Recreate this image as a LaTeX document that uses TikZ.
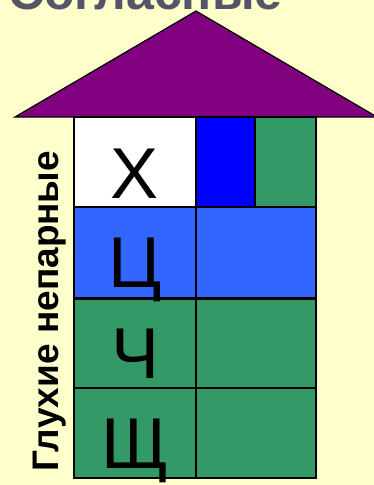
\documentclass[tikz,border=0pt]{standalone}
\usepackage{fontspec}
\setmainfont{Liberation Sans}
\usepackage{tikz}
\usetikzlibrary{positioning}

\definecolor{cream}{HTML}{FFFFCC}
\definecolor{roofpurple}{HTML}{800080}
\definecolor{deepblue}{HTML}{0000FF}
\definecolor{rowblue}{HTML}{3366FF}
\definecolor{cellgreen}{HTML}{339966}
\definecolor{titlegray}{HTML}{55556A}

\begin{document}
\begin{tikzpicture}[x=1pt,y=1pt,node distance=0pt,
  cell/.style={draw,line width=1.6pt,inner sep=0pt,outer sep=0pt,minimum height=90pt},
  letter/.style={font=\fontsize{72}{72}\selectfont,inner sep=0pt,anchor=base}]
  \path[use as bounding box,fill=cream] (0,0) rectangle (374,-485);
  \clip (0,0) rectangle (374,-485);
  \node[anchor=base west,inner sep=0pt,text=titlegray,
        font=\bfseries\fontsize{50}{50}\selectfont] (title) at (8,-9) {Согласные};
  % roof
  \coordinate (eaveL) at (15,-117);
  \coordinate (apex) at (196,-11);
  \coordinate (eaveR) at (377,-117);
  \filldraw[fill=roofpurple,draw=black,line width=1.2pt] (eaveL) -- (apex) -- (eaveR) -- cycle;
  % walls
  \node[cell,fill=white,minimum width=122pt,anchor=north west] (h1) at (74,-117) {};
  \node[cell,fill=deepblue,minimum width=59pt,right=of h1] (h2) {};
  \node[cell,fill=cellgreen,minimum width=61pt,right=of h2] (h3) {};
  \node[cell,fill=rowblue,minimum width=122pt,minimum height=91pt,below=of h1] (c1) {};
  \node[cell,fill=rowblue,minimum width=120pt,minimum height=91pt,right=of c1] (c2) {};
  \node[cell,fill=cellgreen,minimum width=122pt,below=of c1] (ch1) {};
  \node[cell,fill=cellgreen,minimum width=120pt,right=of ch1] (ch2) {};
  \node[cell,fill=cellgreen,minimum width=122pt,below=of ch1] (sh1) {};
  \node[cell,fill=cellgreen,minimum width=120pt,right=of sh1] (sh2) {};
  \draw[line width=3pt] (c1.south west) -- (c2.south east);
  % letters
  \node[letter] (lh) at ([yshift=9pt]h1.south) {Х};
  \node[letter] (lc) at ([yshift=11pt]c1.south) {Ц};
  \node[letter] (lch) at ([yshift=10pt]ch1.south) {Ч};
  \node[letter] (lsh) at ([yshift=10pt]sh1.south) {Щ};
  \node[rotate=90,anchor=base,inner sep=0pt,
        font=\bfseries\fontsize{37}{37}\selectfont] (side) at (58,-311) {Глухие непарные};
\end{tikzpicture}
\end{document}
